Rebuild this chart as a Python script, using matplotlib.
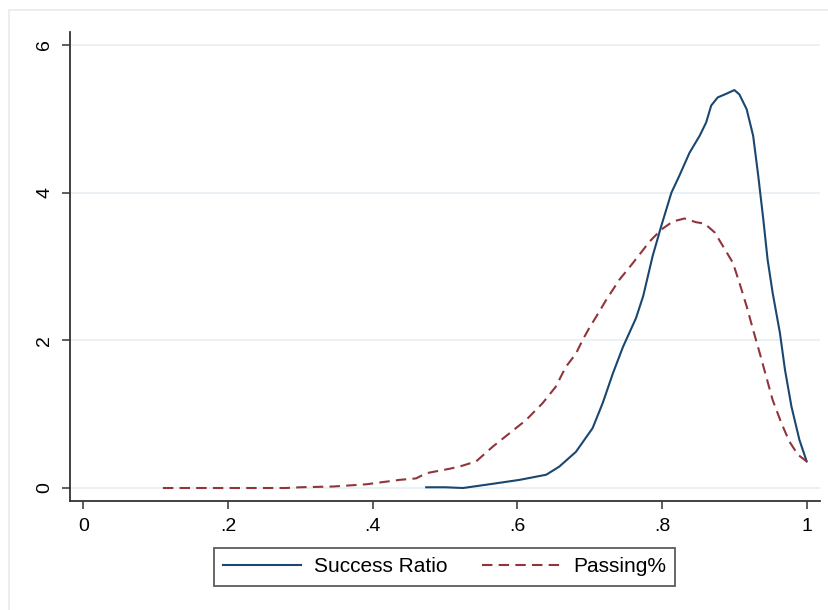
import numpy as np
import matplotlib
matplotlib.use("Agg")
import matplotlib.pyplot as plt
from matplotlib.patches import Rectangle

plt.rcParams['font.family'] = ['Liberation Sans', 'DejaVu Sans']

# kernel density curves
success_x = [0.474, 0.50, 0.525, 0.561, 0.603, 0.640, 0.658, 0.681, 0.704, 0.718,
             0.732, 0.746, 0.764, 0.774, 0.787, 0.799, 0.813, 0.824, 0.838, 0.852,
             0.861, 0.868, 0.877, 0.889, 0.900, 0.907, 0.917, 0.926, 0.933, 0.940,
             0.946, 0.953, 0.963, 0.970, 0.979, 0.990, 1.0]
success_y = [0.01, 0.01, 0.0, 0.05, 0.11, 0.18, 0.29, 0.49, 0.81, 1.15,
             1.55, 1.91, 2.30, 2.60, 3.14, 3.55, 4.00, 4.23, 4.54, 4.77,
             4.95, 5.18, 5.29, 5.34, 5.39, 5.33, 5.13, 4.77, 4.23, 3.64,
             3.09, 2.64, 2.10, 1.60, 1.10, 0.65, 0.36]

passing_x = [0.110, 0.15, 0.20, 0.25, 0.28, 0.30, 0.345, 0.391, 0.437, 0.460,
             0.474, 0.506, 0.520, 0.543, 0.566, 0.589, 0.612, 0.635, 0.653, 0.667,
             0.681, 0.690, 0.699, 0.709, 0.723, 0.741, 0.760, 0.783, 0.799, 0.815,
             0.831, 0.847, 0.859, 0.873, 0.887, 0.898, 0.907, 0.917, 0.926, 0.935,
             0.944, 0.953, 0.965, 0.976, 0.988, 1.0]
passing_y = [0.0, 0.0, 0.0, 0.0, 0.0, 0.01, 0.02, 0.05, 0.11, 0.13,
             0.20, 0.26, 0.29, 0.36, 0.56, 0.74, 0.92, 1.15, 1.37, 1.64,
             1.82, 2.00, 2.16, 2.32, 2.55, 2.82, 3.05, 3.34, 3.50, 3.61,
             3.65, 3.60, 3.58, 3.46, 3.23, 3.05, 2.78, 2.46, 2.14, 1.83,
             1.51, 1.19, 0.88, 0.63, 0.45, 0.36]

x_ticks = [0, 0.2, 0.4, 0.6, 0.8, 1]
x_labels = ['0', '.2', '.4', '.6', '.8', '1']
y_ticks = [0, 2, 4, 6]

navy = '#1a476f'
maroon = '#90353b'
grid_col = '#e8eff2'
spine_col = '#333333'

fig = plt.figure(figsize=(8.29, 6.10), dpi=100)
fig.patch.set_facecolor('white')
# faint outer graph-region border (only top and left edges show)
fig.add_artist(Rectangle((9 / 829, -0.05), 1.1, 1.05 - 10 / 610, transform=fig.transFigure,
                         fill=False, edgecolor='#e4ece9', linewidth=1.2))

ax = fig.add_axes([70 / 829, 1 - 501 / 610, 750 / 829, 469 / 610])
ax.plot(success_x, success_y, color=navy, lw=1.5, label='Success Ratio')
ax.plot(passing_x, passing_y, color=maroon, lw=1.5, dashes=(5, 3), label='Passing%')

ax.set_xlim(-0.0184, 1.0184)
ax.set_ylim(-0.176, 6.176)
ax.set_xticks(x_ticks)
ax.set_xticklabels(x_labels)
ax.set_yticks(y_ticks)
ax.set_yticklabels([str(v) for v in y_ticks], rotation=90, va='center')

for side in ['top', 'right']:
    ax.spines[side].set_visible(False)
for side in ['left', 'bottom']:
    ax.spines[side].set_color(spine_col)
    ax.spines[side].set_linewidth(1.3)
ax.tick_params(axis='both', length=6, width=1.1, color=spine_col,
               labelsize=14, labelcolor='black')
ax.tick_params(axis='x', pad=6)
ax.tick_params(axis='y', pad=6)
ax.yaxis.grid(True, color=grid_col, linewidth=1.3)
ax.set_axisbelow(True)

leg = fig.legend(loc='center', bbox_to_anchor=((212 + 677) / 2 / 829, 1 - 567 / 610),
                 ncol=2, fontsize=15, frameon=True, fancybox=False,
                 handlelength=3.75, handletextpad=0.6, columnspacing=1.7,
                 borderpad=0.45)
leg.get_frame().set_edgecolor(spine_col)
leg.get_frame().set_linewidth(1.3)

fig.savefig('out.png', dpi=100)
